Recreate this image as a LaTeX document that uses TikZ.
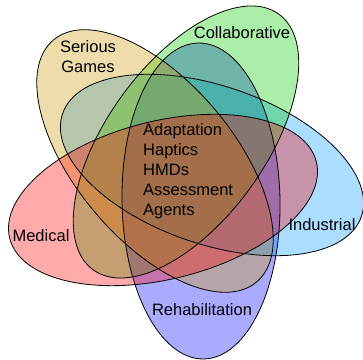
\documentclass[tikz,border=0pt]{standalone}
\usepackage{fontspec}
\setmainfont{Liberation Sans}
\definecolor{rehab}{RGB}{0,0,255}
\definecolor{indus}{RGB}{0,153,255}
\definecolor{collab}{RGB}{0,204,0}
\definecolor{sgames}{RGB}{204,153,0}
\definecolor{medic}{RGB}{255,0,0}
\tikzset{
  setfill/.style={fill=#1, fill opacity=0.3333},
  setline/.style={draw=black, line width=0.8pt},
  lbl/.style={font=\fontsize{16.5}{20}\selectfont, text=black, inner sep=0pt},
}
\begin{document}
\begin{tikzpicture}[x=1pt,y=1pt]
\useasboundingbox (0,0) rectangle (363,359);
\coordinate (cR) at (201,158);
\coordinate (cI) at (212,194);
\coordinate (cC) at (186,217);
\coordinate (cS) at (155,198);
\coordinate (cM) at (163,159);
% fills
\fill[setfill=rehab, rotate around={-89:(cR)}] (cR) ellipse [x radius=158, y radius=79];
\fill[setfill=indus, rotate around={-19:(cI)}] (cI) ellipse [x radius=158, y radius=79];
\fill[setfill=collab, rotate around={54:(cC)}] (cC) ellipse [x radius=158, y radius=79];
\fill[setfill=sgames, rotate around={-50:(cS)}] (cS) ellipse [x radius=158, y radius=79];
\fill[setfill=medic, rotate around={14:(cM)}] (cM) ellipse [x radius=158, y radius=79];
% outlines
\draw[setline, rotate around={-89:(cR)}] (cR) ellipse [x radius=158, y radius=79];
\draw[setline, rotate around={-19:(cI)}] (cI) ellipse [x radius=158, y radius=79];
\draw[setline, rotate around={54:(cC)}] (cC) ellipse [x radius=158, y radius=79];
\draw[setline, rotate around={-50:(cS)}] (cS) ellipse [x radius=158, y radius=79];
\draw[setline, rotate around={14:(cM)}] (cM) ellipse [x radius=158, y radius=79];
% labels
\node[lbl, align=center] (tS) at (88,302) {Serious\\Games};
\node[lbl] (tC) at (242,326) {Collaborative};
\node[lbl] (tI) at (322,134) {Industrial};
\node[lbl] (tR) at (202,49) {Rehabilitation};
\node[lbl] (tM) at (41,123) {Medical};
\node[lbl, align=left, anchor=west] (tX) at (143,188) {Adaptation\\Haptics\\HMDs\\Assessment\\Agents};
\end{tikzpicture}
\end{document}
